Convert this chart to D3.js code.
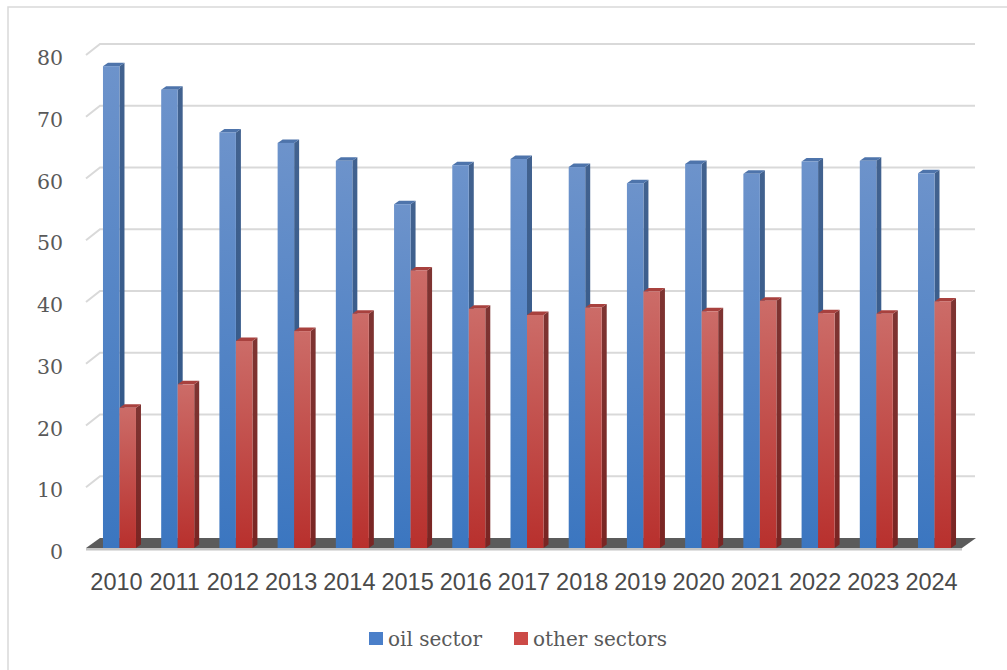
<!DOCTYPE html>
<html><head><meta charset="utf-8">
<script src="https://cdn.jsdelivr.net/npm/d3@7"></script>
<style>body{margin:0;background:#fff}svg{display:block}</style>
</head><body>
<svg id="c" width="1007" height="670"></svg>
<script>
const years = ["2010","2011","2012","2013","2014","2015","2016","2017","2018","2019","2020","2021","2022","2023","2024"];
const oilSector = [77.6,73.8,66.9,65.2,62.3,55.3,61.6,62.6,61.3,58.7,61.8,60.2,62.2,62.3,60.3];
const otherSectors = [22.4,26.2,33.2,34.8,37.6,44.6,38.4,37.4,38.6,41.2,38.0,39.7,37.7,37.6,39.6];
const yTicks = [0,10,20,30,40,50,60,70,80];
const seriesNames = ["oil sector","other sectors"];

const svg = d3.select("#c");

// border
svg.append("rect").attr("x",8).attr("y",7).attr("width",1010).attr("height",680)
  .attr("fill","none").attr("stroke","#d9d9d9").attr("stroke-width",1.5);

const defs = svg.append("defs");
function grad(id, c1, c2){
  const g = defs.append("linearGradient").attr("id",id).attr("x1",0).attr("y1",0).attr("x2",0).attr("y2",1);
  g.append("stop").attr("offset","0%").attr("stop-color",c1);
  g.append("stop").attr("offset","100%").attr("stop-color",c2);
}
grad("gBlue","#6d93cb","#3b76c0");
grad("gRed","#cc6c68","#b8302d");
grad("gBlueSide","#42628f","#2f5688");
grad("gRedSide","#7e3432","#7a2523");

const ddx = 14, ddy = -11;          // wall depth offset
const bdx = 5, bdy = -3.5;          // bar depth offset
const yFront = d3.scaleLinear().domain([0,80]).range([549,55]);
const yBar = d3.scaleLinear().domain([0,80]).range([546.5,546.5-80*6.19]);
const x = d3.scaleBand().domain(years).range([89,965]).paddingInner(0.433).paddingOuter(0.24);
const xs = d3.scaleBand().domain(seriesNames).range([0,x.bandwidth()]);

const fx0 = 86, fx1 = 962;

// gridlines on back wall with left diagonal
const grid = svg.append("g");
yTicks.filter(t=>t>0).forEach(t=>{
  const yf = yFront(t), yb = yFront(t)+ddy;
  grid.append("path")
    .attr("d",`M${fx0},${yf}L${fx0+ddx},${yb}L${fx1+ddx-1},${yb}`)
    .attr("fill","none").attr("stroke","#d9d9d9").attr("stroke-width",2);
});

// y tick labels
svg.append("g").selectAll("text").data(yTicks).join("text")
  .attr("x",63).attr("y",d=>yFront(d)+3)
  .attr("text-anchor","end").attr("dominant-baseline","central")
  .attr("font-family","DejaVu Serif").attr("font-size",20.5).attr("fill","#595959")
  .text(d=>d);

// floor top
const y0f = yFront(0)-1, y0b = yFront(0)+ddy;
svg.append("path")
  .attr("d",`M${fx0},${y0f}L${fx1},${y0f}L${fx1+ddx},${y0b}L${fx0+ddx},${y0b}Z`)
  .attr("fill","#5b5b5b");

// bars
const colors = {
  "oil sector": {front:"url(#gBlue)", side:"url(#gBlueSide)", top:"#4e74ab"},
  "other sectors": {front:"url(#gRed)", side:"url(#gRedSide)", top:"#a8413e"}
};
const barsG = svg.append("g");
years.forEach((yr,i)=>{
  [[seriesNames[0],oilSector[i]],[seriesNames[1],otherSectors[i]]].forEach(([s,v])=>{
    const xl = x(yr)+xs(s), xr = xl+xs.bandwidth();
    const yt = yBar(v), yb = yBar(0)+1.5;
    const c = colors[s];
    barsG.append("path")
      .attr("d",`M${xr},${yt}L${xr+bdx},${yt+bdy}L${xr+bdx},${yb+bdy}L${xr},${yb}Z`)
      .attr("fill",c.side);
    barsG.append("path")
      .attr("d",`M${xl},${yt}L${xl+bdx},${yt+bdy}L${xr+bdx},${yt+bdy}L${xr},${yt}Z`)
      .attr("fill",c.top);
    barsG.append("rect").attr("x",xl).attr("y",yt).attr("width",xr-xl).attr("height",yb-yt)
      .attr("fill",c.front);
  });
});

// floor front edge
svg.append("rect").attr("x",fx0).attr("y",y0f).attr("width",fx1-fx0).attr("height",2.5)
  .attr("fill","#c4c4c4");

// x labels
svg.append("g").selectAll("text").data(years).join("text")
  .attr("x",d=>x(d)+x.bandwidth()/2-3).attr("y",589.5)
  .attr("text-anchor","middle")
  .attr("font-family","Liberation Sans, Arial").attr("font-size",23.5).attr("fill","#4a4a4a")
  .text(d=>d);

// legend
const legend = [
  {name:seriesNames[0], color:"#4a7fc9", x:369},
  {name:seriesNames[1], color:"#cc4a47", x:514}
];
const lg = svg.append("g");
legend.forEach(l=>{
  lg.append("rect").attr("x",l.x).attr("y",632).attr("width",14).attr("height",13).attr("fill",l.color);
  lg.append("text").attr("x",l.x+19).attr("y",645.5)
    .attr("font-family","DejaVu Serif").attr("font-size",20).attr("fill","#595959").text(l.name);
});
</script>
</body></html>
